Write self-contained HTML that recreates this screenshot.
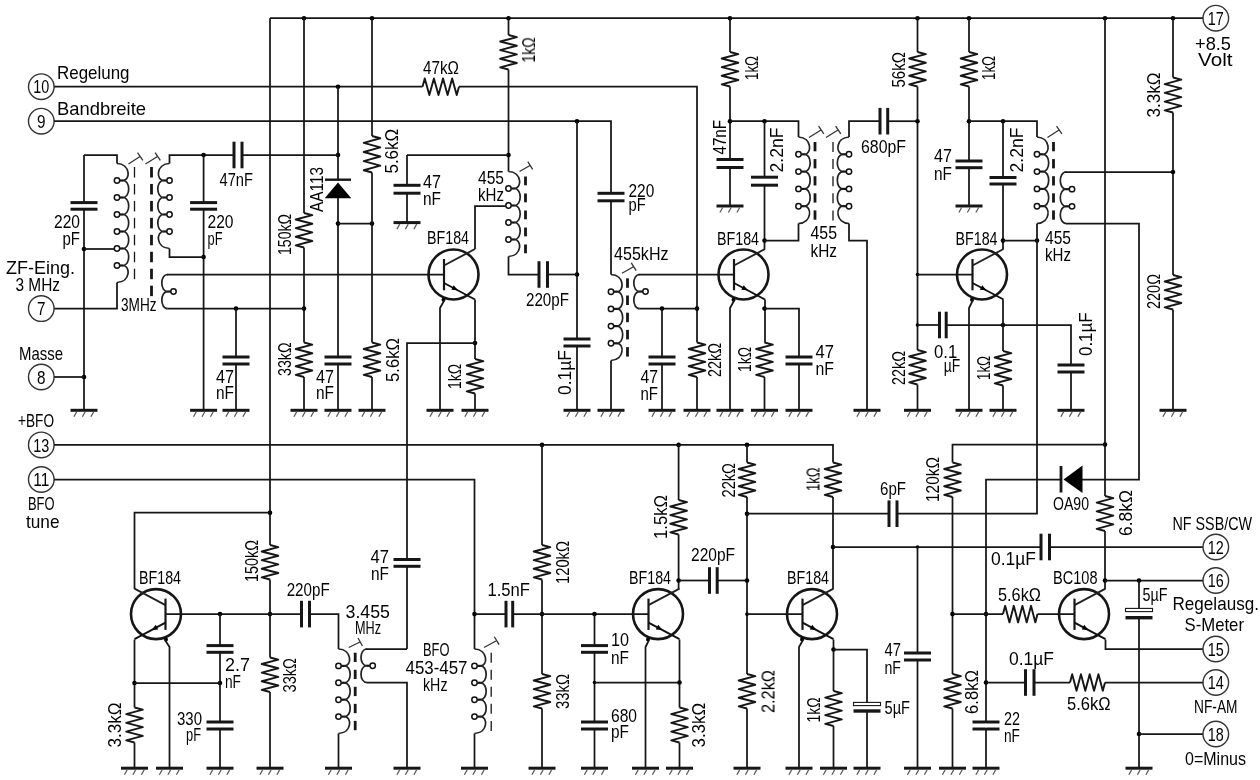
<!DOCTYPE html>
<html><head><meta charset="utf-8"><title>ZF-Verstaerker Schaltplan</title>
<style>
html,body{margin:0;padding:0;background:#fff;}
svg{display:block;}

svg text{font-family:"Liberation Sans",sans-serif;font-size:19px;fill:#000;stroke:none;}
svg g.t{opacity:0.999;}
</style></head><body>
<svg width="1260" height="780" viewBox="0 0 1260 780" stroke="#161616" stroke-width="1.75" fill="none" stroke-linecap="butt" stroke-linejoin="miter">
<rect x="0" y="0" width="1260" height="780" fill="#fff" stroke="none"/>
<path d="M270 18.2 L1203 18.2"/>
<circle cx="304" cy="18.2" r="2.3" fill="#000" stroke="none"/>
<circle cx="372" cy="18.2" r="2.3" fill="#000" stroke="none"/>
<circle cx="508.5" cy="18.2" r="2.3" fill="#000" stroke="none"/>
<circle cx="730" cy="18.2" r="2.3" fill="#000" stroke="none"/>
<circle cx="917.5" cy="18.2" r="2.3" fill="#000" stroke="none"/>
<circle cx="969" cy="18.2" r="2.3" fill="#000" stroke="none"/>
<circle cx="1105" cy="18.2" r="2.3" fill="#000" stroke="none"/>
<circle cx="1173" cy="18.2" r="2.3" fill="#000" stroke="none"/>
<circle cx="1215.8" cy="18.2" r="12.8" fill="#fff" stroke-width="1.4" stroke="#333"/>
<path d="M270 18.2 L270 545"/>
<circle cx="270" cy="512.7" r="2.3" fill="#000" stroke="none"/>
<path d="M270 545 L278.3 547.16 L261.7 551.47 L278.3 555.78 L261.7 560.09 L278.3 564.41 L261.7 568.72 L278.3 573.03 L261.7 577.34 L270 579.5" stroke-width="1.9" stroke-linejoin="round"/>
<path d="M270 579.5 L270 657.5"/>
<circle cx="270" cy="614.1" r="2.3" fill="#000" stroke="none"/>
<path d="M270 657.5 L278.3 659.66 L261.7 663.97 L278.3 668.28 L261.7 672.59 L278.3 676.91 L261.7 681.22 L278.3 685.53 L261.7 689.84 L270 692" stroke-width="1.9" stroke-linejoin="round"/>
<path d="M270 692 L270 768.2"/>
<path d="M256.5 768.2 L283.5 768.2" stroke-width="3"/>
<path d="M262.7 769.7 L259.9 774.7" stroke-width="1.2" stroke="#555"/>
<path d="M271.2 769.7 L268.4 774.7" stroke-width="1.2" stroke="#555"/>
<path d="M279.7 769.7 L276.9 774.7" stroke-width="1.2" stroke="#555"/>
<circle cx="41.3" cy="86.7" r="12.8" fill="#fff" stroke-width="1.4" stroke="#333"/>
<path d="M54.1 86.7 L422.5 86.7"/>
<path d="M422.5 86.7 L424.78 78.4 L429.34 95 L433.91 78.4 L438.47 95 L443.03 78.4 L447.59 95 L452.16 78.4 L456.72 95 L459 86.7" stroke-width="1.9" stroke-linejoin="round"/>
<path d="M459 86.7 L697 86.7 L697 342.5"/>
<path d="M697 342.5 L705.3 344.66 L688.7 348.97 L705.3 353.28 L688.7 357.59 L705.3 361.91 L688.7 366.22 L705.3 370.53 L688.7 374.84 L697 377" stroke-width="1.9" stroke-linejoin="round"/>
<path d="M697 377 L697 410.3"/>
<path d="M683.5 410.3 L710.5 410.3" stroke-width="3"/>
<path d="M689.7 411.8 L686.9 416.8" stroke-width="1.2" stroke="#555"/>
<path d="M698.2 411.8 L695.4 416.8" stroke-width="1.2" stroke="#555"/>
<path d="M706.7 411.8 L703.9 416.8" stroke-width="1.2" stroke="#555"/>
<circle cx="697" cy="308.6" r="2.3" fill="#000" stroke="none"/>
<circle cx="338" cy="86.7" r="2.3" fill="#000" stroke="none"/>
<path d="M338 86.7 L338 179.5"/>
<circle cx="338" cy="155" r="2.3" fill="#000" stroke="none"/>
<path d="M325 179.7 L351 179.7" stroke-width="2.4"/>
<path d="M338 182.5 L351.3 198.3 L324.7 198.3 Z" fill="#000" stroke="none"/>
<path d="M338 198 L338 357"/>
<circle cx="338" cy="223.6" r="2.3" fill="#000" stroke="none"/>
<path d="M324.5 357 L351.5 357" stroke-width="3"/>
<path d="M324.5 364 L351.5 364" stroke-width="3"/>
<path d="M338 364 L338 410.3"/>
<path d="M324.5 410.3 L351.5 410.3" stroke-width="3"/>
<path d="M330.7 411.8 L327.9 416.8" stroke-width="1.2" stroke="#555"/>
<path d="M339.2 411.8 L336.4 416.8" stroke-width="1.2" stroke="#555"/>
<path d="M347.7 411.8 L344.9 416.8" stroke-width="1.2" stroke="#555"/>
<path d="M338 223.6 L372 223.6"/>
<circle cx="372" cy="223.6" r="2.3" fill="#000" stroke="none"/>
<path d="M304 18.2 L304 213"/>
<path d="M304 213 L312.3 215.16 L295.7 219.47 L312.3 223.78 L295.7 228.09 L312.3 232.41 L295.7 236.72 L312.3 241.03 L295.7 245.34 L304 247.5" stroke-width="1.9" stroke-linejoin="round"/>
<path d="M304 247.5 L304 342.5"/>
<circle cx="304" cy="308.6" r="2.3" fill="#000" stroke="none"/>
<path d="M304 342.5 L312.3 344.66 L295.7 348.97 L312.3 353.28 L295.7 357.59 L312.3 361.91 L295.7 366.22 L312.3 370.53 L295.7 374.84 L304 377" stroke-width="1.9" stroke-linejoin="round"/>
<path d="M304 377 L304 410.3"/>
<path d="M290.5 410.3 L317.5 410.3" stroke-width="3"/>
<path d="M296.7 411.8 L293.9 416.8" stroke-width="1.2" stroke="#555"/>
<path d="M305.2 411.8 L302.4 416.8" stroke-width="1.2" stroke="#555"/>
<path d="M313.7 411.8 L310.9 416.8" stroke-width="1.2" stroke="#555"/>
<path d="M372 18.2 L372 136"/>
<path d="M372 136 L380.3 138.28 L363.7 142.84 L380.3 147.41 L363.7 151.97 L380.3 156.53 L363.7 161.09 L380.3 165.66 L363.7 170.22 L372 172.5" stroke-width="1.9" stroke-linejoin="round"/>
<path d="M372 172.5 L372 342.5"/>
<path d="M372 342.5 L380.3 344.66 L363.7 348.97 L380.3 353.28 L363.7 357.59 L380.3 361.91 L363.7 366.22 L380.3 370.53 L363.7 374.84 L372 377" stroke-width="1.9" stroke-linejoin="round"/>
<path d="M372 377 L372 410.3"/>
<path d="M358.5 410.3 L385.5 410.3" stroke-width="3"/>
<path d="M364.7 411.8 L361.9 416.8" stroke-width="1.2" stroke="#555"/>
<path d="M373.2 411.8 L370.4 416.8" stroke-width="1.2" stroke="#555"/>
<path d="M381.7 411.8 L378.9 416.8" stroke-width="1.2" stroke="#555"/>
<circle cx="41.3" cy="121.2" r="12.8" fill="#fff" stroke-width="1.4" stroke="#333"/>
<path d="M54.1 121.2 L611 121.2 L611 193.3"/>
<path d="M597.5 193.3 L624.5 193.3" stroke-width="3"/>
<path d="M597.5 200.8 L624.5 200.8" stroke-width="3"/>
<path d="M611 200.8 L611 274.5"/>
<circle cx="577" cy="121.2" r="2.3" fill="#000" stroke="none"/>
<path d="M577 121.2 L577 339"/>
<circle cx="577" cy="274.5" r="2.3" fill="#000" stroke="none"/>
<path d="M563.5 339 L590.5 339" stroke-width="3"/>
<path d="M563.5 346 L590.5 346" stroke-width="3"/>
<path d="M577 346 L577 410.3"/>
<path d="M563.5 410.3 L590.5 410.3" stroke-width="3"/>
<path d="M569.7 411.8 L566.9 416.8" stroke-width="1.2" stroke="#555"/>
<path d="M578.2 411.8 L575.4 416.8" stroke-width="1.2" stroke="#555"/>
<path d="M586.7 411.8 L583.9 416.8" stroke-width="1.2" stroke="#555"/>
<path d="M84 155 L117 155 L117 163.5"/>
<path d="M117 163.5 C130.65 164 130.65 180.5 122.8 180.5 M122.8 180.5 C130.65 180.5 130.65 197.5 122.8 197.5 M122.8 197.5 C130.65 197.5 130.65 214.5 122.8 214.5 M122.8 214.5 C130.65 214.5 130.65 231.5 122.8 231.5 M122.8 231.5 C130.65 231.5 130.65 248.5 122.8 248.5 M122.8 248.5 C130.65 248.5 130.65 265.5 122.8 265.5 M122.8 265.5 C130.65 265.5 130.65 282 117 282.5" stroke-width="1.7" stroke="#222"/>
<circle cx="117" cy="180.5" r="2.7" fill="#fff" stroke-width="1.5" stroke="#111"/>
<path d="M119.9 180.5 L123.3 180.5" stroke-width="2.2"/>
<circle cx="117" cy="197.5" r="2.7" fill="#fff" stroke-width="1.5" stroke="#111"/>
<path d="M119.9 197.5 L123.3 197.5" stroke-width="2.2"/>
<circle cx="117" cy="214.5" r="2.7" fill="#fff" stroke-width="1.5" stroke="#111"/>
<path d="M119.9 214.5 L123.3 214.5" stroke-width="2.2"/>
<circle cx="117" cy="231.5" r="2.7" fill="#fff" stroke-width="1.5" stroke="#111"/>
<path d="M119.9 231.5 L123.3 231.5" stroke-width="2.2"/>
<circle cx="117" cy="248.5" r="2.7" fill="#fff" stroke-width="1.5" stroke="#111"/>
<path d="M119.9 248.5 L123.3 248.5" stroke-width="2.2"/>
<circle cx="117" cy="265.5" r="2.7" fill="#fff" stroke-width="1.5" stroke="#111"/>
<path d="M119.9 265.5 L123.3 265.5" stroke-width="2.2"/>
<path d="M117 282.5 L117 308.6 L54.1 308.6"/>
<circle cx="41.3" cy="308.6" r="12.8" fill="#fff" stroke-width="1.4" stroke="#333"/>
<path d="M84 155 L84 202.6"/>
<path d="M70.5 202.6 L97.5 202.6" stroke-width="3"/>
<path d="M70.5 209.2 L97.5 209.2" stroke-width="3"/>
<path d="M84 209.2 L84 410.3"/>
<path d="M70.5 410.3 L97.5 410.3" stroke-width="3"/>
<path d="M76.7 411.8 L73.9 416.8" stroke-width="1.2" stroke="#555"/>
<path d="M85.2 411.8 L82.4 416.8" stroke-width="1.2" stroke="#555"/>
<path d="M93.7 411.8 L90.9 416.8" stroke-width="1.2" stroke="#555"/>
<circle cx="84" cy="249" r="2.3" fill="#000" stroke="none"/>
<path d="M84 249 L114 249"/>
<circle cx="84" cy="377" r="2.3" fill="#000" stroke="none"/>
<circle cx="41.3" cy="377" r="12.8" fill="#fff" stroke-width="1.4" stroke="#333"/>
<path d="M54.1 377 L84 377"/>
<path d="M134.5 167 L134.5 177.5" stroke-width="1.3"/>
<path d="M134.5 183.95 L134.5 194.45" stroke-width="1.3"/>
<path d="M134.5 200.9 L134.5 211.4" stroke-width="1.3"/>
<path d="M134.5 217.85 L134.5 228.35" stroke-width="1.3"/>
<path d="M134.5 234.8 L134.5 245.3" stroke-width="1.3"/>
<path d="M134.5 251.75 L134.5 262.25" stroke-width="1.3"/>
<path d="M134.5 268.7 L134.5 279.2" stroke-width="1.3"/>
<path d="M151.5 167 L151.5 177.5" stroke-width="2.8"/>
<path d="M151.5 183.95 L151.5 194.45" stroke-width="2.8"/>
<path d="M151.5 200.9 L151.5 211.4" stroke-width="2.8"/>
<path d="M151.5 217.85 L151.5 228.35" stroke-width="2.8"/>
<path d="M151.5 234.8 L151.5 245.3" stroke-width="2.8"/>
<path d="M151.5 251.75 L151.5 262.25" stroke-width="2.8"/>
<path d="M151.5 268.7 L151.5 279.2" stroke-width="2.8"/>
<path d="M151.5 285.65 L151.5 296.15" stroke-width="2.8"/>
<path d="M128.5 164 L140 156.5" stroke-width="1.3" stroke="#333"/>
<path d="M142.88 160.27 L137.54 152.73" stroke-width="1.3" stroke="#333"/>
<path d="M145.5 164 L157.5 156.5" stroke-width="1.3" stroke="#333"/>
<path d="M160.31 160.32 L155.12 152.68" stroke-width="1.3" stroke="#333"/>
<path d="M169.5 163.5 C155.85 164 155.85 180.5 163.7 180.5 M163.7 180.5 C155.85 180.5 155.85 197.5 163.7 197.5 M163.7 197.5 C155.85 197.5 155.85 214.5 163.7 214.5 M163.7 214.5 C155.85 214.5 155.85 231.5 163.7 231.5 M163.7 231.5 C155.85 231.5 155.85 248 169.5 248.5" stroke-width="1.7" stroke="#222"/>
<circle cx="169.5" cy="180.5" r="2.7" fill="#fff" stroke-width="1.5" stroke="#111"/>
<path d="M166.6 180.5 L163.2 180.5" stroke-width="2.2"/>
<circle cx="169.5" cy="197.5" r="2.7" fill="#fff" stroke-width="1.5" stroke="#111"/>
<path d="M166.6 197.5 L163.2 197.5" stroke-width="2.2"/>
<circle cx="169.5" cy="214.5" r="2.7" fill="#fff" stroke-width="1.5" stroke="#111"/>
<path d="M166.6 214.5 L163.2 214.5" stroke-width="2.2"/>
<circle cx="169.5" cy="231.5" r="2.7" fill="#fff" stroke-width="1.5" stroke="#111"/>
<path d="M166.6 231.5 L163.2 231.5" stroke-width="2.2"/>
<path d="M169.5 163.5 L169.5 155 L234 155"/>
<path d="M234 141.7 L234 168.3" stroke-width="3"/>
<path d="M242 141.7 L242 168.3" stroke-width="3"/>
<path d="M242 155 L338 155"/>
<circle cx="203.6" cy="155" r="2.3" fill="#000" stroke="none"/>
<path d="M203.6 155 L203.6 202.6"/>
<path d="M190.1 202.6 L217.1 202.6" stroke-width="3"/>
<path d="M190.1 209.2 L217.1 209.2" stroke-width="3"/>
<path d="M203.6 209.2 L203.6 410.3"/>
<path d="M190.1 410.3 L217.1 410.3" stroke-width="3"/>
<path d="M196.3 411.8 L193.5 416.8" stroke-width="1.2" stroke="#555"/>
<path d="M204.8 411.8 L202 416.8" stroke-width="1.2" stroke="#555"/>
<path d="M213.3 411.8 L210.5 416.8" stroke-width="1.2" stroke="#555"/>
<circle cx="203.6" cy="257" r="2.3" fill="#000" stroke="none"/>
<path d="M169.5 248.5 L169.5 257 L203.6 257"/>
<path d="M167.7 274.5 C159.85 274.5 159.85 291.55 167.7 291.55 M167.7 291.55 C159.85 291.55 159.85 308.6 167.7 308.6" stroke-width="1.7" stroke="#222"/>
<circle cx="173.5" cy="291.55" r="2.7" fill="#fff" stroke-width="1.5" stroke="#111"/>
<path d="M170.6 291.55 L167.2 291.55" stroke-width="2.2"/>
<path d="M167 274.5 L444 274.5"/>
<path d="M167.5 308.6 L304 308.6"/>
<circle cx="236" cy="308.6" r="2.3" fill="#000" stroke="none"/>
<path d="M236 308.6 L236 357"/>
<path d="M222.5 357 L249.5 357" stroke-width="3"/>
<path d="M222.5 364 L249.5 364" stroke-width="3"/>
<path d="M236 364 L236 410.3"/>
<path d="M222.5 410.3 L249.5 410.3" stroke-width="3"/>
<path d="M228.7 411.8 L225.9 416.8" stroke-width="1.2" stroke="#555"/>
<path d="M237.2 411.8 L234.4 416.8" stroke-width="1.2" stroke="#555"/>
<path d="M245.7 411.8 L242.9 416.8" stroke-width="1.2" stroke="#555"/>
<circle cx="453.5" cy="274.5" r="25" fill="none" stroke-width="2.6"/>
<path d="M444 259 L444 290.3" stroke-width="2.2"/>
<path d="M444 265.5 L475 249" stroke-width="1.9" stroke="#222"/>
<path d="M444 283 L475 299.5" stroke-width="1.9" stroke="#111"/>
<path d="M457.82 290.36 L453.75 285.24 L451.31 289.83 Z" fill="#000" stroke="none"/>
<circle cx="443.5" cy="299.8" r="2" fill="#000" stroke="none"/>
<path d="M475 249 L475 206 L505.5 206"/>
<path d="M475 299.5 L475 359"/>
<circle cx="475" cy="343" r="2.3" fill="#000" stroke="none"/>
<path d="M475 359 L483.3 361.16 L466.7 365.47 L483.3 369.78 L466.7 374.09 L483.3 378.41 L466.7 382.72 L483.3 387.03 L466.7 391.34 L475 393.5" stroke-width="1.9" stroke-linejoin="round"/>
<path d="M475 393.5 L475 410.3"/>
<path d="M461.5 410.3 L488.5 410.3" stroke-width="3"/>
<path d="M467.7 411.8 L464.9 416.8" stroke-width="1.2" stroke="#555"/>
<path d="M476.2 411.8 L473.4 416.8" stroke-width="1.2" stroke="#555"/>
<path d="M484.7 411.8 L481.9 416.8" stroke-width="1.2" stroke="#555"/>
<path d="M444.5 300 L440 308 L440 410.3"/>
<path d="M426.5 410.3 L453.5 410.3" stroke-width="3"/>
<path d="M432.7 411.8 L429.9 416.8" stroke-width="1.2" stroke="#555"/>
<path d="M441.2 411.8 L438.4 416.8" stroke-width="1.2" stroke="#555"/>
<path d="M449.7 411.8 L446.9 416.8" stroke-width="1.2" stroke="#555"/>
<path d="M475 343 L407 343 L407 559.5"/>
<path d="M393.5 559.5 L420.5 559.5" stroke-width="3"/>
<path d="M393.5 566.3 L420.5 566.3" stroke-width="3"/>
<path d="M407 566.3 L407 649"/>
<path d="M508.5 18.2 L508.5 35"/>
<path d="M508.5 35 L516.8 37.16 L500.2 41.47 L516.8 45.78 L500.2 50.09 L516.8 54.41 L500.2 58.72 L516.8 63.03 L500.2 67.34 L508.5 69.5" stroke-width="1.9" stroke-linejoin="round"/>
<path d="M508.5 69.5 L508.5 171.5"/>
<circle cx="508.5" cy="155" r="2.3" fill="#000" stroke="none"/>
<path d="M407 155 L508.5 155"/>
<path d="M407 155 L407 185.3"/>
<path d="M393.5 185.3 L420.5 185.3" stroke-width="3"/>
<path d="M393.5 193.2 L420.5 193.2" stroke-width="3"/>
<path d="M407 193.2 L407 222.6"/>
<path d="M393.5 222.6 L420.5 222.6" stroke-width="3"/>
<path d="M399.7 224.1 L396.9 229.1" stroke-width="1.2" stroke="#555"/>
<path d="M408.2 224.1 L405.4 229.1" stroke-width="1.2" stroke="#555"/>
<path d="M416.7 224.1 L413.9 229.1" stroke-width="1.2" stroke="#555"/>
<path d="M508.5 171.5 C522.15 172 522.15 188.5 514.3 188.5 M514.3 188.5 C522.15 188.5 522.15 205.5 514.3 205.5 M514.3 205.5 C522.15 205.5 522.15 222.5 514.3 222.5 M514.3 222.5 C522.15 222.5 522.15 239.5 514.3 239.5 M514.3 239.5 C522.15 239.5 522.15 256 508.5 256.5" stroke-width="1.7" stroke="#222"/>
<circle cx="508.5" cy="188.5" r="2.7" fill="#fff" stroke-width="1.5" stroke="#111"/>
<path d="M511.4 188.5 L514.8 188.5" stroke-width="2.2"/>
<circle cx="508.5" cy="205.5" r="2.7" fill="#fff" stroke-width="1.5" stroke="#111"/>
<path d="M511.4 205.5 L514.8 205.5" stroke-width="2.2"/>
<circle cx="508.5" cy="222.5" r="2.7" fill="#fff" stroke-width="1.5" stroke="#111"/>
<path d="M511.4 222.5 L514.8 222.5" stroke-width="2.2"/>
<circle cx="508.5" cy="239.5" r="2.7" fill="#fff" stroke-width="1.5" stroke="#111"/>
<path d="M511.4 239.5 L514.8 239.5" stroke-width="2.2"/>
<path d="M508.5 256.5 L508.5 274.5 L539 274.5"/>
<path d="M539 261.2 L539 287.8" stroke-width="3"/>
<path d="M547.5 261.2 L547.5 287.8" stroke-width="3"/>
<path d="M547.5 274.5 L577 274.5"/>
<path d="M525.5 176.5 L525.5 185.3" stroke-width="2.8"/>
<path d="M525.5 193.5 L525.5 202.3" stroke-width="2.8"/>
<path d="M525.5 210.5 L525.5 219.3" stroke-width="2.8"/>
<path d="M525.5 227.5 L525.5 236.3" stroke-width="2.8"/>
<path d="M525.5 244.5 L525.5 253.3" stroke-width="2.8"/>
<path d="M519.5 171.5 L530 165.5" stroke-width="1.3" stroke="#333"/>
<path d="M532.67 169.41 L527.77 161.59" stroke-width="1.3" stroke="#333"/>
<path d="M611 274.5 C624.65 275 624.65 291.7 616.8 291.7 M616.8 291.7 C624.65 291.7 624.65 308.9 616.8 308.9 M616.8 308.9 C624.65 308.9 624.65 326.1 616.8 326.1 M616.8 326.1 C624.65 326.1 624.65 343.3 616.8 343.3 M616.8 343.3 C624.65 343.3 624.65 360 611 360.5" stroke-width="1.7" stroke="#222"/>
<circle cx="611" cy="291.7" r="2.7" fill="#fff" stroke-width="1.5" stroke="#111"/>
<path d="M613.9 291.7 L617.3 291.7" stroke-width="2.2"/>
<circle cx="611" cy="308.9" r="2.7" fill="#fff" stroke-width="1.5" stroke="#111"/>
<path d="M613.9 308.9 L617.3 308.9" stroke-width="2.2"/>
<circle cx="611" cy="326.1" r="2.7" fill="#fff" stroke-width="1.5" stroke="#111"/>
<path d="M613.9 326.1 L617.3 326.1" stroke-width="2.2"/>
<circle cx="611" cy="343.3" r="2.7" fill="#fff" stroke-width="1.5" stroke="#111"/>
<path d="M613.9 343.3 L617.3 343.3" stroke-width="2.2"/>
<path d="M611 360.5 L611 410.3"/>
<path d="M597.5 410.3 L624.5 410.3" stroke-width="3"/>
<path d="M603.7 411.8 L600.9 416.8" stroke-width="1.2" stroke="#555"/>
<path d="M612.2 411.8 L609.4 416.8" stroke-width="1.2" stroke="#555"/>
<path d="M620.7 411.8 L617.9 416.8" stroke-width="1.2" stroke="#555"/>
<path d="M627.5 278.3 L627.5 287.8" stroke-width="2.8"/>
<path d="M627.5 295.5 L627.5 305" stroke-width="2.8"/>
<path d="M627.5 312.7 L627.5 322.2" stroke-width="2.8"/>
<path d="M627.5 329.9 L627.5 339.4" stroke-width="2.8"/>
<path d="M627.5 347.1 L627.5 356.6" stroke-width="2.8"/>
<path d="M622 273.3 L633.5 266.7" stroke-width="1.3" stroke="#333"/>
<path d="M636.17 270.6 L631.26 262.8" stroke-width="1.3" stroke="#333"/>
<path d="M639.7 274.5 C631.85 274.5 631.85 291.55 639.7 291.55 M639.7 291.55 C631.85 291.55 631.85 308.6 639.7 308.6" stroke-width="1.7" stroke="#222"/>
<circle cx="645.5" cy="291.55" r="2.7" fill="#fff" stroke-width="1.5" stroke="#111"/>
<path d="M642.6 291.55 L639.2 291.55" stroke-width="2.2"/>
<path d="M638.5 274.5 L734 274.5"/>
<path d="M639.5 308.6 L697 308.6"/>
<circle cx="662" cy="308.6" r="2.3" fill="#000" stroke="none"/>
<path d="M662 308.6 L662 357"/>
<path d="M648.5 357 L675.5 357" stroke-width="3"/>
<path d="M648.5 364 L675.5 364" stroke-width="3"/>
<path d="M662 364 L662 410.3"/>
<path d="M648.5 410.3 L675.5 410.3" stroke-width="3"/>
<path d="M654.7 411.8 L651.9 416.8" stroke-width="1.2" stroke="#555"/>
<path d="M663.2 411.8 L660.4 416.8" stroke-width="1.2" stroke="#555"/>
<path d="M671.7 411.8 L668.9 416.8" stroke-width="1.2" stroke="#555"/>
<path d="M730 18.2 L730 52"/>
<path d="M730 52 L738.3 54.16 L721.7 58.47 L738.3 62.78 L721.7 67.09 L738.3 71.41 L721.7 75.72 L738.3 80.03 L721.7 84.34 L730 86.5" stroke-width="1.9" stroke-linejoin="round"/>
<path d="M730 86.5 L730 159.5"/>
<circle cx="730" cy="121.2" r="2.3" fill="#000" stroke="none"/>
<path d="M716.5 159.5 L743.5 159.5" stroke-width="3"/>
<path d="M716.5 167.5 L743.5 167.5" stroke-width="3"/>
<path d="M730 167.5 L730 206"/>
<path d="M716.5 206 L743.5 206" stroke-width="3"/>
<path d="M722.7 207.5 L719.9 212.5" stroke-width="1.2" stroke="#555"/>
<path d="M731.2 207.5 L728.4 212.5" stroke-width="1.2" stroke="#555"/>
<path d="M739.7 207.5 L736.9 212.5" stroke-width="1.2" stroke="#555"/>
<path d="M730 121.2 L798.5 121.2 L798.5 137"/>
<circle cx="764.5" cy="121.2" r="2.3" fill="#000" stroke="none"/>
<path d="M764.5 121.2 L764.5 177.2"/>
<path d="M751 177.2 L778 177.2" stroke-width="3"/>
<path d="M751 185.2 L778 185.2" stroke-width="3"/>
<path d="M764.5 185.2 L764.5 249"/>
<circle cx="764.5" cy="240.6" r="2.3" fill="#000" stroke="none"/>
<path d="M798.5 137 C812.15 137.5 812.15 154.3 804.3 154.3 M804.3 154.3 C812.15 154.3 812.15 171.6 804.3 171.6 M804.3 171.6 C812.15 171.6 812.15 188.9 804.3 188.9 M804.3 188.9 C812.15 188.9 812.15 206.2 804.3 206.2 M804.3 206.2 C812.15 206.2 812.15 223 798.5 223.5" stroke-width="1.7" stroke="#222"/>
<circle cx="798.5" cy="154.3" r="2.7" fill="#fff" stroke-width="1.5" stroke="#111"/>
<path d="M801.4 154.3 L804.8 154.3" stroke-width="2.2"/>
<circle cx="798.5" cy="171.6" r="2.7" fill="#fff" stroke-width="1.5" stroke="#111"/>
<path d="M801.4 171.6 L804.8 171.6" stroke-width="2.2"/>
<circle cx="798.5" cy="188.9" r="2.7" fill="#fff" stroke-width="1.5" stroke="#111"/>
<path d="M801.4 188.9 L804.8 188.9" stroke-width="2.2"/>
<circle cx="798.5" cy="206.2" r="2.7" fill="#fff" stroke-width="1.5" stroke="#111"/>
<path d="M801.4 206.2 L804.8 206.2" stroke-width="2.2"/>
<path d="M798.5 223.5 L798.5 240.6 L764.5 240.6"/>
<path d="M849 137 C835.35 137.5 835.35 154.3 843.2 154.3 M843.2 154.3 C835.35 154.3 835.35 171.6 843.2 171.6 M843.2 171.6 C835.35 171.6 835.35 188.9 843.2 188.9 M843.2 188.9 C835.35 188.9 835.35 206.2 843.2 206.2 M843.2 206.2 C835.35 206.2 835.35 223 849 223.5" stroke-width="1.7" stroke="#222"/>
<circle cx="849" cy="154.3" r="2.7" fill="#fff" stroke-width="1.5" stroke="#111"/>
<path d="M846.1 154.3 L842.7 154.3" stroke-width="2.2"/>
<circle cx="849" cy="171.6" r="2.7" fill="#fff" stroke-width="1.5" stroke="#111"/>
<path d="M846.1 171.6 L842.7 171.6" stroke-width="2.2"/>
<circle cx="849" cy="188.9" r="2.7" fill="#fff" stroke-width="1.5" stroke="#111"/>
<path d="M846.1 188.9 L842.7 188.9" stroke-width="2.2"/>
<circle cx="849" cy="206.2" r="2.7" fill="#fff" stroke-width="1.5" stroke="#111"/>
<path d="M846.1 206.2 L842.7 206.2" stroke-width="2.2"/>
<path d="M849 137 L849 121.2 L880 121.2"/>
<path d="M880 107.9 L880 134.5" stroke-width="3"/>
<path d="M887.7 107.9 L887.7 134.5" stroke-width="3"/>
<path d="M887.7 121.2 L917.5 121.2"/>
<path d="M849 223.5 L849 240.6 L867 240.6 L867 410.3"/>
<path d="M853.5 410.3 L880.5 410.3" stroke-width="3"/>
<path d="M859.7 411.8 L856.9 416.8" stroke-width="1.2" stroke="#555"/>
<path d="M868.2 411.8 L865.4 416.8" stroke-width="1.2" stroke="#555"/>
<path d="M876.7 411.8 L873.9 416.8" stroke-width="1.2" stroke="#555"/>
<path d="M815 142 L815 151.3" stroke-width="2.8"/>
<path d="M815 159.1 L815 168.4" stroke-width="2.8"/>
<path d="M815 176.2 L815 185.5" stroke-width="2.8"/>
<path d="M815 193.3 L815 202.6" stroke-width="2.8"/>
<path d="M815 210.4 L815 219.7" stroke-width="2.8"/>
<path d="M833 142 L833 152" stroke-width="1.3"/>
<path d="M833 159.1 L833 169.1" stroke-width="1.3"/>
<path d="M833 176.2 L833 186.2" stroke-width="1.3"/>
<path d="M833 193.3 L833 203.3" stroke-width="1.3"/>
<path d="M833 210.4 L833 220.4" stroke-width="1.3"/>
<path d="M809 137.5 L821 130" stroke-width="1.3" stroke="#333"/>
<path d="M823.81 133.82 L818.62 126.18" stroke-width="1.3" stroke="#333"/>
<path d="M826 137.5 L838 130" stroke-width="1.3" stroke="#333"/>
<path d="M840.81 133.82 L835.62 126.18" stroke-width="1.3" stroke="#333"/>
<circle cx="743.5" cy="274.5" r="25" fill="none" stroke-width="2.6"/>
<path d="M734 259 L734 290.3" stroke-width="2.2"/>
<path d="M734 265.5 L765 249" stroke-width="1.9" stroke="#222"/>
<path d="M734 283 L765 299.5" stroke-width="1.9" stroke="#111"/>
<path d="M747.82 290.36 L743.75 285.24 L741.31 289.83 Z" fill="#000" stroke="none"/>
<circle cx="733.5" cy="299.8" r="2" fill="#000" stroke="none"/>
<path d="M765 299.5 L765 342.5"/>
<circle cx="764.5" cy="308.6" r="2.3" fill="#000" stroke="none"/>
<path d="M764.5 342.5 L772.8 344.66 L756.2 348.97 L772.8 353.28 L756.2 357.59 L772.8 361.91 L756.2 366.22 L772.8 370.53 L756.2 374.84 L764.5 377" stroke-width="1.9" stroke-linejoin="round"/>
<path d="M764.5 377 L764.5 410.3"/>
<path d="M751 410.3 L778 410.3" stroke-width="3"/>
<path d="M757.2 411.8 L754.4 416.8" stroke-width="1.2" stroke="#555"/>
<path d="M765.7 411.8 L762.9 416.8" stroke-width="1.2" stroke="#555"/>
<path d="M774.2 411.8 L771.4 416.8" stroke-width="1.2" stroke="#555"/>
<path d="M764.5 308.6 L799 308.6 L799 357"/>
<path d="M785.5 357 L812.5 357" stroke-width="3"/>
<path d="M785.5 364 L812.5 364" stroke-width="3"/>
<path d="M799 364 L799 410.3"/>
<path d="M785.5 410.3 L812.5 410.3" stroke-width="3"/>
<path d="M791.7 411.8 L788.9 416.8" stroke-width="1.2" stroke="#555"/>
<path d="M800.2 411.8 L797.4 416.8" stroke-width="1.2" stroke="#555"/>
<path d="M808.7 411.8 L805.9 416.8" stroke-width="1.2" stroke="#555"/>
<path d="M734.5 300 L730 308 L730 410.3"/>
<path d="M716.5 410.3 L743.5 410.3" stroke-width="3"/>
<path d="M722.7 411.8 L719.9 416.8" stroke-width="1.2" stroke="#555"/>
<path d="M731.2 411.8 L728.4 416.8" stroke-width="1.2" stroke="#555"/>
<path d="M739.7 411.8 L736.9 416.8" stroke-width="1.2" stroke="#555"/>
<path d="M917.5 18.2 L917.5 52"/>
<path d="M917.5 52 L925.8 54.16 L909.2 58.47 L925.8 62.78 L909.2 67.09 L925.8 71.41 L909.2 75.72 L925.8 80.03 L909.2 84.34 L917.5 86.5" stroke-width="1.9" stroke-linejoin="round"/>
<path d="M917.5 86.5 L917.5 350"/>
<circle cx="917.5" cy="121.2" r="2.3" fill="#000" stroke="none"/>
<circle cx="917.5" cy="274.5" r="1.8" fill="#000" stroke="none"/>
<circle cx="917.5" cy="325" r="1.8" fill="#000" stroke="none"/>
<path d="M917.5 350 L925.8 352.16 L909.2 356.47 L925.8 360.78 L909.2 365.09 L925.8 369.41 L909.2 373.72 L925.8 378.03 L909.2 382.34 L917.5 384.5" stroke-width="1.9" stroke-linejoin="round"/>
<path d="M917.5 384.5 L917.5 410.3"/>
<path d="M904 410.3 L931 410.3" stroke-width="3"/>
<path d="M910.2 411.8 L907.4 416.8" stroke-width="1.2" stroke="#555"/>
<path d="M918.7 411.8 L915.9 416.8" stroke-width="1.2" stroke="#555"/>
<path d="M927.2 411.8 L924.4 416.8" stroke-width="1.2" stroke="#555"/>
<path d="M917.5 274.5 L972.5 274.5"/>
<path d="M917.5 325 L939.5 325"/>
<path d="M939.5 311.7 L939.5 338.3" stroke-width="3"/>
<path d="M946.2 311.7 L946.2 338.3" stroke-width="3"/>
<path d="M946.2 325 L1071 325 L1071 365"/>
<circle cx="1003" cy="325" r="2.3" fill="#000" stroke="none"/>
<path d="M1057.5 365 L1084.5 365" stroke-width="3"/>
<path d="M1057.5 372 L1084.5 372" stroke-width="3"/>
<path d="M1071 372 L1071 410.3"/>
<path d="M1057.5 410.3 L1084.5 410.3" stroke-width="3"/>
<path d="M1063.7 411.8 L1060.9 416.8" stroke-width="1.2" stroke="#555"/>
<path d="M1072.2 411.8 L1069.4 416.8" stroke-width="1.2" stroke="#555"/>
<path d="M1080.7 411.8 L1077.9 416.8" stroke-width="1.2" stroke="#555"/>
<circle cx="982" cy="274.5" r="25" fill="none" stroke-width="2.6"/>
<path d="M972.5 259 L972.5 290.3" stroke-width="2.2"/>
<path d="M972.5 265.5 L1003.5 249" stroke-width="1.9" stroke="#222"/>
<path d="M972.5 283 L1003.5 299.5" stroke-width="1.9" stroke="#111"/>
<path d="M986.32 290.36 L982.25 285.24 L979.81 289.83 Z" fill="#000" stroke="none"/>
<circle cx="972" cy="299.8" r="2" fill="#000" stroke="none"/>
<path d="M969 18.2 L969 52"/>
<path d="M969 52 L977.3 54.16 L960.7 58.47 L977.3 62.78 L960.7 67.09 L977.3 71.41 L960.7 75.72 L977.3 80.03 L960.7 84.34 L969 86.5" stroke-width="1.9" stroke-linejoin="round"/>
<path d="M969 86.5 L969 161"/>
<circle cx="969" cy="121.2" r="2.3" fill="#000" stroke="none"/>
<path d="M955.5 161 L982.5 161" stroke-width="3"/>
<path d="M955.5 167.7 L982.5 167.7" stroke-width="3"/>
<path d="M969 167.7 L969 206"/>
<path d="M955.5 206 L982.5 206" stroke-width="3"/>
<path d="M961.7 207.5 L958.9 212.5" stroke-width="1.2" stroke="#555"/>
<path d="M970.2 207.5 L967.4 212.5" stroke-width="1.2" stroke="#555"/>
<path d="M978.7 207.5 L975.9 212.5" stroke-width="1.2" stroke="#555"/>
<path d="M969 121.2 L1037 121.2 L1037 137"/>
<circle cx="1003" cy="121.2" r="2.3" fill="#000" stroke="none"/>
<path d="M1003 121.2 L1003 177.5"/>
<path d="M989.5 177.5 L1016.5 177.5" stroke-width="3"/>
<path d="M989.5 184 L1016.5 184" stroke-width="3"/>
<path d="M1003 184 L1003 249"/>
<circle cx="1003" cy="240.6" r="2.3" fill="#000" stroke="none"/>
<path d="M1003 240.6 L1037 240.6"/>
<circle cx="1037" cy="240.6" r="2.3" fill="#000" stroke="none"/>
<path d="M1003 299.5 L1003 351"/>
<path d="M1003 351 L1011.3 353.16 L994.7 357.47 L1011.3 361.78 L994.7 366.09 L1011.3 370.41 L994.7 374.72 L1011.3 379.03 L994.7 383.34 L1003 385.5" stroke-width="1.9" stroke-linejoin="round"/>
<path d="M1003 385.5 L1003 410.3"/>
<path d="M989.5 410.3 L1016.5 410.3" stroke-width="3"/>
<path d="M995.7 411.8 L992.9 416.8" stroke-width="1.2" stroke="#555"/>
<path d="M1004.2 411.8 L1001.4 416.8" stroke-width="1.2" stroke="#555"/>
<path d="M1012.7 411.8 L1009.9 416.8" stroke-width="1.2" stroke="#555"/>
<path d="M973 300 L969 308 L969 410.3"/>
<path d="M955.5 410.3 L982.5 410.3" stroke-width="3"/>
<path d="M961.7 411.8 L958.9 416.8" stroke-width="1.2" stroke="#555"/>
<path d="M970.2 411.8 L967.4 416.8" stroke-width="1.2" stroke="#555"/>
<path d="M978.7 411.8 L975.9 416.8" stroke-width="1.2" stroke="#555"/>
<path d="M1037 137 C1050.65 137.5 1050.65 154.3 1042.8 154.3 M1042.8 154.3 C1050.65 154.3 1050.65 171.6 1042.8 171.6 M1042.8 171.6 C1050.65 171.6 1050.65 188.9 1042.8 188.9 M1042.8 188.9 C1050.65 188.9 1050.65 206.2 1042.8 206.2 M1042.8 206.2 C1050.65 206.2 1050.65 223 1037 223.5" stroke-width="1.7" stroke="#222"/>
<circle cx="1037" cy="154.3" r="2.7" fill="#fff" stroke-width="1.5" stroke="#111"/>
<path d="M1039.9 154.3 L1043.3 154.3" stroke-width="2.2"/>
<circle cx="1037" cy="171.6" r="2.7" fill="#fff" stroke-width="1.5" stroke="#111"/>
<path d="M1039.9 171.6 L1043.3 171.6" stroke-width="2.2"/>
<circle cx="1037" cy="188.9" r="2.7" fill="#fff" stroke-width="1.5" stroke="#111"/>
<path d="M1039.9 188.9 L1043.3 188.9" stroke-width="2.2"/>
<circle cx="1037" cy="206.2" r="2.7" fill="#fff" stroke-width="1.5" stroke="#111"/>
<path d="M1039.9 206.2 L1043.3 206.2" stroke-width="2.2"/>
<path d="M1037 223.5 L1037 513.7 L897 513.7"/>
<path d="M1053.5 142 L1053.5 151.3" stroke-width="2.8"/>
<path d="M1053.5 159.1 L1053.5 168.4" stroke-width="2.8"/>
<path d="M1053.5 176.2 L1053.5 185.5" stroke-width="2.8"/>
<path d="M1053.5 193.3 L1053.5 202.6" stroke-width="2.8"/>
<path d="M1053.5 210.4 L1053.5 219.7" stroke-width="2.8"/>
<path d="M1047.5 137.5 L1059 130" stroke-width="1.3" stroke="#333"/>
<path d="M1061.88 133.77 L1056.54 126.23" stroke-width="1.3" stroke="#333"/>
<path d="M1066.2 172 C1058.35 172 1058.35 189.17 1066.2 189.17 M1066.2 189.17 C1058.35 189.17 1058.35 206.33 1066.2 206.33 M1066.2 206.33 C1058.35 206.33 1058.35 223.5 1066.2 223.5" stroke-width="1.7" stroke="#222"/>
<circle cx="1072" cy="189.17" r="2.7" fill="#fff" stroke-width="1.5" stroke="#111"/>
<path d="M1069.1 189.17 L1065.7 189.17" stroke-width="2.2"/>
<circle cx="1072" cy="206.33" r="2.7" fill="#fff" stroke-width="1.5" stroke="#111"/>
<path d="M1069.1 206.33 L1065.7 206.33" stroke-width="2.2"/>
<path d="M1064.5 172 L1173 172"/>
<path d="M1066 223.5 L1139 223.5 L1139 479.5 L1082 479.5"/>
<path d="M1105 18.2 L1105 496"/>
<circle cx="1105" cy="444.5" r="2.3" fill="#000" stroke="none"/>
<path d="M1105 496 L1113.3 498.19 L1096.7 502.56 L1113.3 506.94 L1096.7 511.31 L1113.3 515.69 L1096.7 520.06 L1113.3 524.44 L1096.7 528.81 L1105 531" stroke-width="1.9" stroke-linejoin="round"/>
<path d="M1105 531 L1105 589"/>
<circle cx="1105" cy="580.5" r="2.3" fill="#000" stroke="none"/>
<path d="M1173 18.2 L1173 77.5"/>
<path d="M1173 77.5 L1181.3 79.69 L1164.7 84.06 L1181.3 88.44 L1164.7 92.81 L1181.3 97.19 L1164.7 101.56 L1181.3 105.94 L1164.7 110.31 L1173 112.5" stroke-width="1.9" stroke-linejoin="round"/>
<path d="M1173 112.5 L1173 275"/>
<circle cx="1173" cy="172" r="2.3" fill="#000" stroke="none"/>
<path d="M1173 275 L1181.3 277.16 L1164.7 281.47 L1181.3 285.78 L1164.7 290.09 L1181.3 294.41 L1164.7 298.72 L1181.3 303.03 L1164.7 307.34 L1173 309.5" stroke-width="1.9" stroke-linejoin="round"/>
<path d="M1173 309.5 L1173 410.3"/>
<path d="M1159.5 410.3 L1186.5 410.3" stroke-width="3"/>
<path d="M1165.7 411.8 L1162.9 416.8" stroke-width="1.2" stroke="#555"/>
<path d="M1174.2 411.8 L1171.4 416.8" stroke-width="1.2" stroke="#555"/>
<path d="M1182.7 411.8 L1179.9 416.8" stroke-width="1.2" stroke="#555"/>
<circle cx="41.3" cy="444.9" r="12.8" fill="#fff" stroke-width="1.4" stroke="#333"/>
<path d="M54.1 444.9 L833 444.9 L833 462.5"/>
<circle cx="542" cy="444.9" r="2.3" fill="#000" stroke="none"/>
<circle cx="678.6" cy="444.9" r="2.3" fill="#000" stroke="none"/>
<circle cx="747" cy="444.9" r="2.3" fill="#000" stroke="none"/>
<path d="M833 462.5 L841.3 464.66 L824.7 468.97 L841.3 473.28 L824.7 477.59 L841.3 481.91 L824.7 486.22 L841.3 490.53 L824.7 494.84 L833 497" stroke-width="1.9" stroke-linejoin="round"/>
<path d="M833 497 L833 589"/>
<circle cx="833" cy="547" r="2.3" fill="#000" stroke="none"/>
<path d="M542 444.9 L542 545"/>
<path d="M542 545 L550.3 547.16 L533.7 551.47 L550.3 555.78 L533.7 560.09 L550.3 564.41 L533.7 568.72 L550.3 573.03 L533.7 577.34 L542 579.5" stroke-width="1.9" stroke-linejoin="round"/>
<path d="M542 579.5 L542 674"/>
<circle cx="542" cy="614.1" r="2.3" fill="#000" stroke="none"/>
<path d="M542 674 L550.3 676.16 L533.7 680.47 L550.3 684.78 L533.7 689.09 L550.3 693.41 L533.7 697.72 L550.3 702.03 L533.7 706.34 L542 708.5" stroke-width="1.9" stroke-linejoin="round"/>
<path d="M542 708.5 L542 768.2"/>
<path d="M528.5 768.2 L555.5 768.2" stroke-width="3"/>
<path d="M534.7 769.7 L531.9 774.7" stroke-width="1.2" stroke="#555"/>
<path d="M543.2 769.7 L540.4 774.7" stroke-width="1.2" stroke="#555"/>
<path d="M551.7 769.7 L548.9 774.7" stroke-width="1.2" stroke="#555"/>
<path d="M678.6 444.9 L678.6 500"/>
<path d="M678.6 500 L686.9 502.16 L670.3 506.47 L686.9 510.78 L670.3 515.09 L686.9 519.41 L670.3 523.72 L686.9 528.03 L670.3 532.34 L678.6 534.5" stroke-width="1.9" stroke-linejoin="round"/>
<path d="M678.6 534.5 L678.6 589"/>
<circle cx="678.6" cy="580.5" r="2.3" fill="#000" stroke="none"/>
<path d="M678.6 580.5 L709.5 580.5"/>
<path d="M709.5 567.2 L709.5 593.8" stroke-width="3"/>
<path d="M717.2 567.2 L717.2 593.8" stroke-width="3"/>
<path d="M717.2 580.5 L747 580.5"/>
<path d="M747 444.9 L747 462.5"/>
<path d="M747 462.5 L755.3 464.66 L738.7 468.97 L755.3 473.28 L738.7 477.59 L755.3 481.91 L738.7 486.22 L755.3 490.53 L738.7 494.84 L747 497" stroke-width="1.9" stroke-linejoin="round"/>
<path d="M747 497 L747 674"/>
<circle cx="747" cy="513.7" r="2.3" fill="#000" stroke="none"/>
<circle cx="747" cy="580.5" r="2.3" fill="#000" stroke="none"/>
<circle cx="747" cy="614.1" r="1.9" fill="#000" stroke="none"/>
<path d="M747 674 L755.3 676.16 L738.7 680.47 L755.3 684.78 L738.7 689.09 L755.3 693.41 L738.7 697.72 L755.3 702.03 L738.7 706.34 L747 708.5" stroke-width="1.9" stroke-linejoin="round"/>
<path d="M747 708.5 L747 768.2"/>
<path d="M733.5 768.2 L760.5 768.2" stroke-width="3"/>
<path d="M739.7 769.7 L736.9 774.7" stroke-width="1.2" stroke="#555"/>
<path d="M748.2 769.7 L745.4 774.7" stroke-width="1.2" stroke="#555"/>
<path d="M756.7 769.7 L753.9 774.7" stroke-width="1.2" stroke="#555"/>
<path d="M747 513.7 L889 513.7"/>
<path d="M889 500.4 L889 527" stroke-width="3"/>
<path d="M897 500.4 L897 527" stroke-width="3"/>
<path d="M747 614.1 L802.5 614.1"/>
<path d="M833 547 L1041 547"/>
<circle cx="917.5" cy="547" r="1.8" fill="#000" stroke="none"/>
<path d="M1041 533.7 L1041 560.3" stroke-width="3"/>
<path d="M1049.5 533.7 L1049.5 560.3" stroke-width="3"/>
<path d="M1049.5 547 L1203 547"/>
<circle cx="1215.8" cy="547" r="12.8" fill="#fff" stroke-width="1.4" stroke="#333"/>
<path d="M917.5 547 L917.5 653"/>
<path d="M904 653 L931 653" stroke-width="3"/>
<path d="M904 660 L931 660" stroke-width="3"/>
<path d="M917.5 660 L917.5 768.2"/>
<path d="M904 768.2 L931 768.2" stroke-width="3"/>
<path d="M910.2 769.7 L907.4 774.7" stroke-width="1.2" stroke="#555"/>
<path d="M918.7 769.7 L915.9 774.7" stroke-width="1.2" stroke="#555"/>
<path d="M927.2 769.7 L924.4 774.7" stroke-width="1.2" stroke="#555"/>
<circle cx="41.3" cy="479.5" r="12.8" fill="#fff" stroke-width="1.4" stroke="#333"/>
<path d="M54.1 479.5 L474.5 479.5 L474.5 649"/>
<circle cx="474.5" cy="614.1" r="2.3" fill="#000" stroke="none"/>
<path d="M952.5 462.5 L952.5 444.5 L1105 444.5"/>
<path d="M952.5 462.5 L960.8 464.66 L944.2 468.97 L960.8 473.28 L944.2 477.59 L960.8 481.91 L944.2 486.22 L960.8 490.53 L944.2 494.84 L952.5 497" stroke-width="1.9" stroke-linejoin="round"/>
<path d="M952.5 497 L952.5 674"/>
<circle cx="952.5" cy="614.1" r="2.3" fill="#000" stroke="none"/>
<path d="M952.5 674 L960.8 676.16 L944.2 680.47 L960.8 684.78 L944.2 689.09 L960.8 693.41 L944.2 697.72 L960.8 702.03 L944.2 706.34 L952.5 708.5" stroke-width="1.9" stroke-linejoin="round"/>
<path d="M952.5 708.5 L952.5 768.2"/>
<path d="M939 768.2 L966 768.2" stroke-width="3"/>
<path d="M945.2 769.7 L942.4 774.7" stroke-width="1.2" stroke="#555"/>
<path d="M953.7 769.7 L950.9 774.7" stroke-width="1.2" stroke="#555"/>
<path d="M962.2 769.7 L959.4 774.7" stroke-width="1.2" stroke="#555"/>
<path d="M986 768.2 L986 479.5 L1061 479.5"/>
<path d="M1061 466 L1061 492.5" stroke-width="2.8"/>
<path d="M1063.5 479.5 L1082.5 465.5 L1082.5 493 Z" fill="#000" stroke="none"/>
<circle cx="986" cy="614.1" r="2.3" fill="#000" stroke="none"/>
<circle cx="986" cy="682.5" r="2.3" fill="#000" stroke="none"/>
<path d="M972.5 722 L999.5 722" stroke-width="3"/>
<path d="M972.5 729 L999.5 729" stroke-width="3"/>
<rect x="985" y="723.4" width="2" height="4.2" fill="#fff" stroke="none"/>
<path d="M972.5 768.2 L999.5 768.2" stroke-width="3"/>
<path d="M978.7 769.7 L975.9 774.7" stroke-width="1.2" stroke="#555"/>
<path d="M987.2 769.7 L984.4 774.7" stroke-width="1.2" stroke="#555"/>
<path d="M995.7 769.7 L992.9 774.7" stroke-width="1.2" stroke="#555"/>
<circle cx="156" cy="614.1" r="25" fill="none" stroke-width="2.6"/>
<path d="M165.5 598.6 L165.5 629.9" stroke-width="2.2"/>
<path d="M165.5 605.1 L134.5 588.6" stroke-width="1.9" stroke="#222"/>
<path d="M165.5 622.6 L134.5 639.1" stroke-width="1.9" stroke="#111"/>
<path d="M151.68 629.96 L158.19 629.43 L155.75 624.84 Z" fill="#000" stroke="none"/>
<circle cx="166" cy="639.4" r="2" fill="#000" stroke="none"/>
<path d="M134.5 589 L134.5 512.7 L270 512.7"/>
<path d="M134.5 639.5 L134.5 707.5"/>
<circle cx="134.5" cy="683" r="2.3" fill="#000" stroke="none"/>
<path d="M134.5 707.5 L142.8 709.69 L126.2 714.06 L142.8 718.44 L126.2 722.81 L142.8 727.19 L126.2 731.56 L142.8 735.94 L126.2 740.31 L134.5 742.5" stroke-width="1.9" stroke-linejoin="round"/>
<path d="M134.5 742.5 L134.5 768.2"/>
<path d="M121 768.2 L148 768.2" stroke-width="3"/>
<path d="M127.2 769.7 L124.4 774.7" stroke-width="1.2" stroke="#555"/>
<path d="M135.7 769.7 L132.9 774.7" stroke-width="1.2" stroke="#555"/>
<path d="M144.2 769.7 L141.4 774.7" stroke-width="1.2" stroke="#555"/>
<path d="M165 640 L169.5 647 L169.5 768.2"/>
<path d="M156 768.2 L183 768.2" stroke-width="3"/>
<path d="M162.2 769.7 L159.4 774.7" stroke-width="1.2" stroke="#555"/>
<path d="M170.7 769.7 L167.9 774.7" stroke-width="1.2" stroke="#555"/>
<path d="M179.2 769.7 L176.4 774.7" stroke-width="1.2" stroke="#555"/>
<path d="M165.5 614.1 L301.5 614.1"/>
<circle cx="220" cy="614.1" r="2.3" fill="#000" stroke="none"/>
<path d="M301.5 600.8 L301.5 627.4" stroke-width="3"/>
<path d="M309.5 600.8 L309.5 627.4" stroke-width="3"/>
<path d="M309.5 614.1 L338.5 614.1 L338.5 649"/>
<path d="M220 614.1 L220 646"/>
<path d="M206.5 645.6 L233.5 645.6" stroke-width="3"/>
<path d="M206.5 652.3 L233.5 652.3" stroke-width="3"/>
<path d="M220 652.3 L220 722"/>
<circle cx="220" cy="683" r="2.3" fill="#000" stroke="none"/>
<path d="M206.5 722 L233.5 722" stroke-width="3"/>
<path d="M206.5 729 L233.5 729" stroke-width="3"/>
<path d="M220 729 L220 768.2"/>
<path d="M206.5 768.2 L233.5 768.2" stroke-width="3"/>
<path d="M212.7 769.7 L209.9 774.7" stroke-width="1.2" stroke="#555"/>
<path d="M221.2 769.7 L218.4 774.7" stroke-width="1.2" stroke="#555"/>
<path d="M229.7 769.7 L226.9 774.7" stroke-width="1.2" stroke="#555"/>
<path d="M134.5 683 L220 683"/>
<path d="M338.5 649 C352.15 649.5 352.15 665.9 344.3 665.9 M344.3 665.9 C352.15 665.9 352.15 682.8 344.3 682.8 M344.3 682.8 C352.15 682.8 352.15 699.7 344.3 699.7 M344.3 699.7 C352.15 699.7 352.15 716.6 344.3 716.6 M344.3 716.6 C352.15 716.6 352.15 733 338.5 733.5" stroke-width="1.7" stroke="#222"/>
<circle cx="338.5" cy="665.9" r="2.7" fill="#fff" stroke-width="1.5" stroke="#111"/>
<path d="M341.4 665.9 L344.8 665.9" stroke-width="2.2"/>
<circle cx="338.5" cy="682.8" r="2.7" fill="#fff" stroke-width="1.5" stroke="#111"/>
<path d="M341.4 682.8 L344.8 682.8" stroke-width="2.2"/>
<circle cx="338.5" cy="699.7" r="2.7" fill="#fff" stroke-width="1.5" stroke="#111"/>
<path d="M341.4 699.7 L344.8 699.7" stroke-width="2.2"/>
<circle cx="338.5" cy="716.6" r="2.7" fill="#fff" stroke-width="1.5" stroke="#111"/>
<path d="M341.4 716.6 L344.8 716.6" stroke-width="2.2"/>
<path d="M338.5 733.5 L338.5 768.2"/>
<path d="M325 768.2 L352 768.2" stroke-width="3"/>
<path d="M331.2 769.7 L328.4 774.7" stroke-width="1.2" stroke="#555"/>
<path d="M339.7 769.7 L336.9 774.7" stroke-width="1.2" stroke="#555"/>
<path d="M348.2 769.7 L345.4 774.7" stroke-width="1.2" stroke="#555"/>
<path d="M355.2 652.7 L355.2 662" stroke-width="2.8"/>
<path d="M355.2 669.75 L355.2 679.05" stroke-width="2.8"/>
<path d="M355.2 686.8 L355.2 696.1" stroke-width="2.8"/>
<path d="M355.2 703.85 L355.2 713.15" stroke-width="2.8"/>
<path d="M355.2 720.9 L355.2 730.2" stroke-width="2.8"/>
<path d="M348.7 647.5 L360 642" stroke-width="1.3" stroke="#333"/>
<path d="M362.42 646.05 L358.03 637.95" stroke-width="1.3" stroke="#333"/>
<path d="M366.9 649 C359.05 649 359.05 665.75 366.9 665.75 M366.9 665.75 C359.05 665.75 359.05 682.5 366.9 682.5" stroke-width="1.7" stroke="#222"/>
<circle cx="372.7" cy="665.75" r="2.7" fill="#fff" stroke-width="1.5" stroke="#111"/>
<path d="M369.8 665.75 L366.4 665.75" stroke-width="2.2"/>
<path d="M407 649 L365.5 649"/>
<path d="M366.5 682.5 L407 682.5 L407 768.2"/>
<path d="M393.5 768.2 L420.5 768.2" stroke-width="3"/>
<path d="M399.7 769.7 L396.9 774.7" stroke-width="1.2" stroke="#555"/>
<path d="M408.2 769.7 L405.4 774.7" stroke-width="1.2" stroke="#555"/>
<path d="M416.7 769.7 L413.9 774.7" stroke-width="1.2" stroke="#555"/>
<path d="M474.5 649 C488.15 649.5 488.15 665.9 480.3 665.9 M480.3 665.9 C488.15 665.9 488.15 682.8 480.3 682.8 M480.3 682.8 C488.15 682.8 488.15 699.7 480.3 699.7 M480.3 699.7 C488.15 699.7 488.15 716.6 480.3 716.6 M480.3 716.6 C488.15 716.6 488.15 733 474.5 733.5" stroke-width="1.7" stroke="#222"/>
<circle cx="474.5" cy="665.9" r="2.7" fill="#fff" stroke-width="1.5" stroke="#111"/>
<path d="M477.4 665.9 L480.8 665.9" stroke-width="2.2"/>
<circle cx="474.5" cy="682.8" r="2.7" fill="#fff" stroke-width="1.5" stroke="#111"/>
<path d="M477.4 682.8 L480.8 682.8" stroke-width="2.2"/>
<circle cx="474.5" cy="699.7" r="2.7" fill="#fff" stroke-width="1.5" stroke="#111"/>
<path d="M477.4 699.7 L480.8 699.7" stroke-width="2.2"/>
<circle cx="474.5" cy="716.6" r="2.7" fill="#fff" stroke-width="1.5" stroke="#111"/>
<path d="M477.4 716.6 L480.8 716.6" stroke-width="2.2"/>
<path d="M474.5 733.5 L474.5 768.2"/>
<path d="M461 768.2 L488 768.2" stroke-width="3"/>
<path d="M467.2 769.7 L464.4 774.7" stroke-width="1.2" stroke="#555"/>
<path d="M475.7 769.7 L472.9 774.7" stroke-width="1.2" stroke="#555"/>
<path d="M484.2 769.7 L481.4 774.7" stroke-width="1.2" stroke="#555"/>
<path d="M491.2 652.7 L491.2 662.7" stroke-width="1.3"/>
<path d="M491.2 669.75 L491.2 679.75" stroke-width="1.3"/>
<path d="M491.2 686.8 L491.2 696.8" stroke-width="1.3"/>
<path d="M491.2 703.85 L491.2 713.85" stroke-width="1.3"/>
<path d="M491.2 720.9 L491.2 730.9" stroke-width="1.3"/>
<path d="M484 647.5 L496.5 640.7" stroke-width="1.3" stroke="#333"/>
<path d="M499.09 644.65 L494.35 636.75" stroke-width="1.3" stroke="#333"/>
<path d="M474.5 614.1 L506 614.1"/>
<path d="M506 600.8 L506 627.4" stroke-width="3"/>
<path d="M512.7 600.8 L512.7 627.4" stroke-width="3"/>
<path d="M512.7 614.1 L649 614.1"/>
<circle cx="594.5" cy="614.1" r="2.3" fill="#000" stroke="none"/>
<path d="M594.5 614.1 L594.5 646"/>
<path d="M581 645.6 L608 645.6" stroke-width="3"/>
<path d="M581 652.3 L608 652.3" stroke-width="3"/>
<path d="M594.5 652.3 L594.5 722"/>
<circle cx="594.5" cy="682.5" r="1.8" fill="#000" stroke="none"/>
<path d="M581 722 L608 722" stroke-width="3"/>
<path d="M581 729 L608 729" stroke-width="3"/>
<path d="M594.5 729 L594.5 768.2"/>
<path d="M581 768.2 L608 768.2" stroke-width="3"/>
<path d="M587.2 769.7 L584.4 774.7" stroke-width="1.2" stroke="#555"/>
<path d="M595.7 769.7 L592.9 774.7" stroke-width="1.2" stroke="#555"/>
<path d="M604.2 769.7 L601.4 774.7" stroke-width="1.2" stroke="#555"/>
<path d="M594.5 682.5 L678.6 682.5"/>
<circle cx="658" cy="614.1" r="25" fill="none" stroke-width="2.6"/>
<path d="M648.5 598.6 L648.5 629.9" stroke-width="2.2"/>
<path d="M648.5 605.1 L679.5 588.6" stroke-width="1.9" stroke="#222"/>
<path d="M648.5 622.6 L679.5 639.1" stroke-width="1.9" stroke="#111"/>
<path d="M662.32 629.96 L658.25 624.84 L655.81 629.43 Z" fill="#000" stroke="none"/>
<circle cx="648" cy="639.4" r="2" fill="#000" stroke="none"/>
<path d="M679.5 639.5 L679.5 707.5"/>
<circle cx="679.5" cy="682.5" r="2.3" fill="#000" stroke="none"/>
<path d="M679.5 707.5 L687.8 709.69 L671.2 714.06 L687.8 718.44 L671.2 722.81 L687.8 727.19 L671.2 731.56 L687.8 735.94 L671.2 740.31 L679.5 742.5" stroke-width="1.9" stroke-linejoin="round"/>
<path d="M679.5 742.5 L679.5 768.2"/>
<path d="M666 768.2 L693 768.2" stroke-width="3"/>
<path d="M672.2 769.7 L669.4 774.7" stroke-width="1.2" stroke="#555"/>
<path d="M680.7 769.7 L677.9 774.7" stroke-width="1.2" stroke="#555"/>
<path d="M689.2 769.7 L686.4 774.7" stroke-width="1.2" stroke="#555"/>
<path d="M649 640 L645.5 647 L645.5 768.2"/>
<path d="M632 768.2 L659 768.2" stroke-width="3"/>
<path d="M638.2 769.7 L635.4 774.7" stroke-width="1.2" stroke="#555"/>
<path d="M646.7 769.7 L643.9 774.7" stroke-width="1.2" stroke="#555"/>
<path d="M655.2 769.7 L652.4 774.7" stroke-width="1.2" stroke="#555"/>
<circle cx="812" cy="614.1" r="25" fill="none" stroke-width="2.6"/>
<path d="M802.5 598.6 L802.5 629.9" stroke-width="2.2"/>
<path d="M802.5 605.1 L833.5 588.6" stroke-width="1.9" stroke="#222"/>
<path d="M802.5 622.6 L833.5 639.1" stroke-width="1.9" stroke="#111"/>
<path d="M816.32 629.96 L812.25 624.84 L809.81 629.43 Z" fill="#000" stroke="none"/>
<circle cx="802" cy="639.4" r="2" fill="#000" stroke="none"/>
<path d="M833.5 639.5 L833.5 691"/>
<circle cx="833.5" cy="649.5" r="2.3" fill="#000" stroke="none"/>
<path d="M833.5 691 L841.8 693.19 L825.2 697.56 L841.8 701.94 L825.2 706.31 L841.8 710.69 L825.2 715.06 L841.8 719.44 L825.2 723.81 L833.5 726" stroke-width="1.9" stroke-linejoin="round"/>
<path d="M833.5 726 L833.5 768.2"/>
<path d="M820 768.2 L847 768.2" stroke-width="3"/>
<path d="M826.2 769.7 L823.4 774.7" stroke-width="1.2" stroke="#555"/>
<path d="M834.7 769.7 L831.9 774.7" stroke-width="1.2" stroke="#555"/>
<path d="M843.2 769.7 L840.4 774.7" stroke-width="1.2" stroke="#555"/>
<path d="M833.5 649.5 L867 649.5 L867 702.5"/>
<rect x="853.5" y="702.4" width="27" height="3.2" fill="#fff" stroke-width="1.1"/>
<path d="M853.5 711 L880.5 711" stroke-width="3.4"/>
<path d="M867 711 L867 768.2"/>
<path d="M853.5 768.2 L880.5 768.2" stroke-width="3"/>
<path d="M859.7 769.7 L856.9 774.7" stroke-width="1.2" stroke="#555"/>
<path d="M868.2 769.7 L865.4 774.7" stroke-width="1.2" stroke="#555"/>
<path d="M876.7 769.7 L873.9 774.7" stroke-width="1.2" stroke="#555"/>
<path d="M803 640 L799 647 L799 768.2"/>
<path d="M785.5 768.2 L812.5 768.2" stroke-width="3"/>
<path d="M791.7 769.7 L788.9 774.7" stroke-width="1.2" stroke="#555"/>
<path d="M800.2 769.7 L797.4 774.7" stroke-width="1.2" stroke="#555"/>
<path d="M808.7 769.7 L805.9 774.7" stroke-width="1.2" stroke="#555"/>
<path d="M952.5 614.1 L1003 614.1"/>
<path d="M1003 614.1 L1005.16 605.8 L1009.47 622.4 L1013.78 605.8 L1018.09 622.4 L1022.41 605.8 L1026.72 622.4 L1031.03 605.8 L1035.34 622.4 L1037.5 614.1" stroke-width="1.9" stroke-linejoin="round"/>
<path d="M1037.5 614.1 L1075 614.1"/>
<circle cx="1084" cy="614.1" r="25" fill="none" stroke-width="2.6"/>
<path d="M1074.5 598.6 L1074.5 629.9" stroke-width="2.2"/>
<path d="M1074.5 605.1 L1105.5 588.6" stroke-width="1.9" stroke="#222"/>
<path d="M1074.5 622.6 L1105.5 639.1" stroke-width="1.9" stroke="#111"/>
<path d="M1088.32 629.96 L1084.25 624.84 L1081.81 629.43 Z" fill="#000" stroke="none"/>
<path d="M1105.5 639.5 L1105.5 649 L1203 649"/>
<circle cx="1215.8" cy="649" r="12.8" fill="#fff" stroke-width="1.4" stroke="#333"/>
<path d="M1105 580.5 L1203 580.5"/>
<circle cx="1139" cy="580.5" r="2.3" fill="#000" stroke="none"/>
<circle cx="1215.8" cy="580.5" r="12.8" fill="#fff" stroke-width="1.4" stroke="#333"/>
<path d="M1139 580.5 L1139 608"/>
<rect x="1125.5" y="608.4" width="27" height="3.2" fill="#fff" stroke-width="1.1"/>
<path d="M1125.5 617.7 L1152.5 617.7" stroke-width="3.4"/>
<path d="M1139 617.5 L1139 768.2"/>
<path d="M1125.5 768.2 L1152.5 768.2" stroke-width="3"/>
<path d="M1131.7 769.7 L1128.9 774.7" stroke-width="1.2" stroke="#555"/>
<path d="M1140.2 769.7 L1137.4 774.7" stroke-width="1.2" stroke="#555"/>
<path d="M1148.7 769.7 L1145.9 774.7" stroke-width="1.2" stroke="#555"/>
<circle cx="1139" cy="734" r="2.3" fill="#000" stroke="none"/>
<path d="M1139 734 L1203 734"/>
<circle cx="1215.8" cy="734" r="12.8" fill="#fff" stroke-width="1.4" stroke="#333"/>
<path d="M986 682.5 L1025.5 682.5"/>
<path d="M1025.5 669.2 L1025.5 695.8" stroke-width="3"/>
<path d="M1034 669.2 L1034 695.8" stroke-width="3"/>
<path d="M1034 682.5 L1070 682.5"/>
<path d="M1070 682.5 L1072.19 674.2 L1076.56 690.8 L1080.94 674.2 L1085.31 690.8 L1089.69 674.2 L1094.06 690.8 L1098.44 674.2 L1102.81 690.8 L1105 682.5" stroke-width="1.9" stroke-linejoin="round"/>
<path d="M1105 682.5 L1203 682.5"/>
<circle cx="1215.8" cy="682.5" r="12.8" fill="#fff" stroke-width="1.4" stroke="#333"/>
<g class="t">
<text x="1215.8" y="24.9" text-anchor="middle" textLength="16" lengthAdjust="spacingAndGlyphs">17</text>
<text x="1195" y="49.5" textLength="36" lengthAdjust="spacingAndGlyphs">+8.5</text>
<text x="1198" y="65.5" textLength="34.5" lengthAdjust="spacingAndGlyphs">Volt</text>
<text transform="translate(257.5 582) rotate(-90)" x="0" y="0" textLength="42" lengthAdjust="spacingAndGlyphs">150kΩ</text>
<text transform="translate(296 692.5) rotate(-90)" x="0" y="0" textLength="34.5" lengthAdjust="spacingAndGlyphs">33kΩ</text>
<text x="41.3" y="93.4" text-anchor="middle" textLength="16" lengthAdjust="spacingAndGlyphs">10</text>
<text x="57" y="79" textLength="72.5" lengthAdjust="spacingAndGlyphs">Regelung</text>
<text x="423" y="74" textLength="36" lengthAdjust="spacingAndGlyphs">47kΩ</text>
<text transform="translate(721.3 377) rotate(-90)" x="0" y="0" textLength="34" lengthAdjust="spacingAndGlyphs">22kΩ</text>
<text transform="translate(323 212) rotate(-90)" x="0" y="0" textLength="45" lengthAdjust="spacingAndGlyphs">AA113</text>
<text x="316" y="382.5" textLength="18" lengthAdjust="spacingAndGlyphs">47</text>
<text x="316" y="399" textLength="18" lengthAdjust="spacingAndGlyphs">nF</text>
<text transform="translate(291 255) rotate(-90)" x="0" y="0" textLength="41" lengthAdjust="spacingAndGlyphs">150kΩ</text>
<text transform="translate(291 376) rotate(-90)" x="0" y="0" textLength="33.5" lengthAdjust="spacingAndGlyphs">33kΩ</text>
<text transform="translate(398 173.5) rotate(-90)" x="0" y="0" textLength="44.5" lengthAdjust="spacingAndGlyphs">5.6kΩ</text>
<text transform="translate(399 382) rotate(-90)" x="0" y="0" textLength="44" lengthAdjust="spacingAndGlyphs">5.6kΩ</text>
<text x="41.3" y="127.9" text-anchor="middle" textLength="8.5" lengthAdjust="spacingAndGlyphs">9</text>
<text x="57" y="115" textLength="89" lengthAdjust="spacingAndGlyphs">Bandbreite</text>
<text transform="translate(571 395) rotate(-90)" x="0" y="0" textLength="45" lengthAdjust="spacingAndGlyphs">0.1µF</text>
<text x="628.5" y="196.7" textLength="25.8" lengthAdjust="spacingAndGlyphs">220</text>
<text x="628.5" y="211.2" textLength="17.2" lengthAdjust="spacingAndGlyphs">pF</text>
<text x="41.3" y="315.3" text-anchor="middle" textLength="8.5" lengthAdjust="spacingAndGlyphs">7</text>
<text x="41.3" y="383.7" text-anchor="middle" textLength="8.5" lengthAdjust="spacingAndGlyphs">8</text>
<text x="219.5" y="186" textLength="33.5" lengthAdjust="spacingAndGlyphs">47nF</text>
<text x="54" y="228" textLength="26" lengthAdjust="spacingAndGlyphs">220</text>
<text x="62.5" y="244.5" textLength="17.5" lengthAdjust="spacingAndGlyphs">pF</text>
<text x="207.5" y="228" textLength="26" lengthAdjust="spacingAndGlyphs">220</text>
<text x="207.5" y="244.5" textLength="15" lengthAdjust="spacingAndGlyphs">pF</text>
<text x="6" y="274" textLength="69" lengthAdjust="spacingAndGlyphs">ZF-Eing.</text>
<text x="15.5" y="291" textLength="44.5" lengthAdjust="spacingAndGlyphs">3 MHz</text>
<text x="121" y="311" textLength="35.5" lengthAdjust="spacingAndGlyphs">3MHz</text>
<text x="19" y="360" textLength="44" lengthAdjust="spacingAndGlyphs">Masse</text>
<text x="216" y="382.5" textLength="18" lengthAdjust="spacingAndGlyphs">47</text>
<text x="216" y="399" textLength="18" lengthAdjust="spacingAndGlyphs">nF</text>
<text x="427" y="244" textLength="42" lengthAdjust="spacingAndGlyphs">BF184</text>
<text transform="translate(461 389) rotate(-90)" x="0" y="0" textLength="25" lengthAdjust="spacingAndGlyphs">1kΩ</text>
<text x="370.5" y="562.5" textLength="18.5" lengthAdjust="spacingAndGlyphs">47</text>
<text x="371" y="580" textLength="18" lengthAdjust="spacingAndGlyphs">nF</text>
<text transform="translate(535 62.5) rotate(-90)" x="0" y="0" textLength="25" lengthAdjust="spacingAndGlyphs">1kΩ</text>
<text x="478" y="183.5" textLength="26" lengthAdjust="spacingAndGlyphs">455</text>
<text x="478" y="201" textLength="26" lengthAdjust="spacingAndGlyphs">kHz</text>
<text x="423" y="187.5" textLength="18" lengthAdjust="spacingAndGlyphs">47</text>
<text x="423" y="205" textLength="18" lengthAdjust="spacingAndGlyphs">nF</text>
<text x="526" y="306" textLength="43" lengthAdjust="spacingAndGlyphs">220pF</text>
<text x="614.1" y="260" textLength="54.4" lengthAdjust="spacingAndGlyphs">455kHz</text>
<text x="640.5" y="383" textLength="17.5" lengthAdjust="spacingAndGlyphs">47</text>
<text x="640.5" y="400" textLength="17.5" lengthAdjust="spacingAndGlyphs">nF</text>
<text transform="translate(758 80) rotate(-90)" x="0" y="0" textLength="24" lengthAdjust="spacingAndGlyphs">1kΩ</text>
<text transform="translate(726 154.5) rotate(-90)" x="0" y="0" textLength="34.5" lengthAdjust="spacingAndGlyphs">47nF</text>
<text transform="translate(782.5 172.5) rotate(-90)" x="0" y="0" textLength="45" lengthAdjust="spacingAndGlyphs">2.2nF</text>
<text x="861" y="152.5" textLength="45" lengthAdjust="spacingAndGlyphs">680pF</text>
<text x="717" y="244.5" textLength="42" lengthAdjust="spacingAndGlyphs">BF184</text>
<text x="810.5" y="239" textLength="26.5" lengthAdjust="spacingAndGlyphs">455</text>
<text x="810.5" y="256.5" textLength="26.5" lengthAdjust="spacingAndGlyphs">kHz</text>
<text transform="translate(751 372) rotate(-90)" x="0" y="0" textLength="25" lengthAdjust="spacingAndGlyphs">1kΩ</text>
<text x="815.5" y="357.5" textLength="18.5" lengthAdjust="spacingAndGlyphs">47</text>
<text x="815.5" y="375" textLength="18.5" lengthAdjust="spacingAndGlyphs">nF</text>
<text transform="translate(905 87.5) rotate(-90)" x="0" y="0" textLength="35.5" lengthAdjust="spacingAndGlyphs">56kΩ</text>
<text transform="translate(905 385) rotate(-90)" x="0" y="0" textLength="34" lengthAdjust="spacingAndGlyphs">22kΩ</text>
<text x="934" y="357.5" textLength="23.2" lengthAdjust="spacingAndGlyphs">0.1</text>
<text x="943.7" y="371.7" textLength="16.5" lengthAdjust="spacingAndGlyphs">µF</text>
<text transform="translate(1092 356) rotate(-90)" x="0" y="0" textLength="43.5" lengthAdjust="spacingAndGlyphs">0.1µF</text>
<text transform="translate(995.3 80) rotate(-90)" x="0" y="0" textLength="24" lengthAdjust="spacingAndGlyphs">1kΩ</text>
<text x="934" y="162.2" textLength="18" lengthAdjust="spacingAndGlyphs">47</text>
<text x="934" y="179.5" textLength="18" lengthAdjust="spacingAndGlyphs">nF</text>
<text transform="translate(1022.5 172.5) rotate(-90)" x="0" y="0" textLength="45" lengthAdjust="spacingAndGlyphs">2.2nF</text>
<text x="955.5" y="244.5" textLength="42" lengthAdjust="spacingAndGlyphs">BF184</text>
<text x="1045" y="244" textLength="26" lengthAdjust="spacingAndGlyphs">455</text>
<text x="1045" y="260.5" textLength="26" lengthAdjust="spacingAndGlyphs">kHz</text>
<text transform="translate(990 380) rotate(-90)" x="0" y="0" textLength="24" lengthAdjust="spacingAndGlyphs">1kΩ</text>
<text transform="translate(1132 536) rotate(-90)" x="0" y="0" textLength="46" lengthAdjust="spacingAndGlyphs">6.8kΩ</text>
<text transform="translate(1160 117.5) rotate(-90)" x="0" y="0" textLength="45" lengthAdjust="spacingAndGlyphs">3.3kΩ</text>
<text transform="translate(1160 309) rotate(-90)" x="0" y="0" textLength="35" lengthAdjust="spacingAndGlyphs">220Ω</text>
<text x="41.3" y="451.6" text-anchor="middle" textLength="16" lengthAdjust="spacingAndGlyphs">13</text>
<text x="18" y="426.5" textLength="36" lengthAdjust="spacingAndGlyphs">+BFO</text>
<text transform="translate(819.5 491) rotate(-90)" x="0" y="0" textLength="23.5" lengthAdjust="spacingAndGlyphs">1kΩ</text>
<text transform="translate(569 584) rotate(-90)" x="0" y="0" textLength="43" lengthAdjust="spacingAndGlyphs">120kΩ</text>
<text transform="translate(569 709) rotate(-90)" x="0" y="0" textLength="35" lengthAdjust="spacingAndGlyphs">33kΩ</text>
<text transform="translate(667 539) rotate(-90)" x="0" y="0" textLength="44" lengthAdjust="spacingAndGlyphs">1.5kΩ</text>
<text x="691" y="561" textLength="44" lengthAdjust="spacingAndGlyphs">220pF</text>
<text transform="translate(735 497.5) rotate(-90)" x="0" y="0" textLength="34.5" lengthAdjust="spacingAndGlyphs">22kΩ</text>
<text transform="translate(774.5 713) rotate(-90)" x="0" y="0" textLength="43" lengthAdjust="spacingAndGlyphs">2.2kΩ</text>
<text x="880" y="495" textLength="26" lengthAdjust="spacingAndGlyphs">6pF</text>
<text x="1215.8" y="553.7" text-anchor="middle" textLength="16" lengthAdjust="spacingAndGlyphs">12</text>
<text x="991" y="565" textLength="45" lengthAdjust="spacingAndGlyphs">0.1µF</text>
<text x="1172.5" y="530" textLength="79.5" lengthAdjust="spacingAndGlyphs">NF SSB/CW</text>
<text x="884.5" y="656" textLength="16.5" lengthAdjust="spacingAndGlyphs">47</text>
<text x="884.5" y="674" textLength="16.5" lengthAdjust="spacingAndGlyphs">nF</text>
<text x="41.3" y="486.2" text-anchor="middle" textLength="16" lengthAdjust="spacingAndGlyphs">11</text>
<text x="28" y="510" textLength="26.5" lengthAdjust="spacingAndGlyphs">BFO</text>
<text x="26" y="527.5" textLength="33.5" lengthAdjust="spacingAndGlyphs">tune</text>
<text transform="translate(939 502) rotate(-90)" x="0" y="0" textLength="45" lengthAdjust="spacingAndGlyphs">120kΩ</text>
<text transform="translate(977.5 714) rotate(-90)" x="0" y="0" textLength="44" lengthAdjust="spacingAndGlyphs">6.8kΩ</text>
<text x="1053" y="510" textLength="36" lengthAdjust="spacingAndGlyphs">OA90</text>
<text x="1004" y="725" textLength="16" lengthAdjust="spacingAndGlyphs">22</text>
<text x="1004" y="742" textLength="16" lengthAdjust="spacingAndGlyphs">nF</text>
<text x="139" y="584" textLength="42" lengthAdjust="spacingAndGlyphs">BF184</text>
<text x="225" y="671" textLength="25" lengthAdjust="spacingAndGlyphs">2.7</text>
<text x="225" y="687.5" textLength="16" lengthAdjust="spacingAndGlyphs">nF</text>
<text x="177" y="725" textLength="25" lengthAdjust="spacingAndGlyphs">330</text>
<text x="186" y="741" textLength="15" lengthAdjust="spacingAndGlyphs">pF</text>
<text transform="translate(121 747.5) rotate(-90)" x="0" y="0" textLength="45" lengthAdjust="spacingAndGlyphs">3.3kΩ</text>
<text x="286.7" y="596" textLength="43" lengthAdjust="spacingAndGlyphs">220pF</text>
<text x="345.5" y="617.5" textLength="44.5" lengthAdjust="spacingAndGlyphs">3.455</text>
<text x="355" y="634" textLength="26" lengthAdjust="spacingAndGlyphs">MHz</text>
<text x="423" y="656" textLength="26.5" lengthAdjust="spacingAndGlyphs">BFO</text>
<text x="405.5" y="674" textLength="62" lengthAdjust="spacingAndGlyphs">453-457</text>
<text x="423" y="691" textLength="24.5" lengthAdjust="spacingAndGlyphs">kHz</text>
<text x="487.5" y="596" textLength="42.5" lengthAdjust="spacingAndGlyphs">1.5nF</text>
<text x="611" y="646" textLength="18" lengthAdjust="spacingAndGlyphs">10</text>
<text x="611" y="664" textLength="18" lengthAdjust="spacingAndGlyphs">nF</text>
<text x="611" y="722" textLength="26" lengthAdjust="spacingAndGlyphs">680</text>
<text x="611" y="738" textLength="18" lengthAdjust="spacingAndGlyphs">pF</text>
<text x="629" y="584" textLength="42" lengthAdjust="spacingAndGlyphs">BF184</text>
<text transform="translate(705 747.5) rotate(-90)" x="0" y="0" textLength="44.5" lengthAdjust="spacingAndGlyphs">3.3kΩ</text>
<text x="787" y="584" textLength="42" lengthAdjust="spacingAndGlyphs">BF184</text>
<text transform="translate(820 722.5) rotate(-90)" x="0" y="0" textLength="25" lengthAdjust="spacingAndGlyphs">1kΩ</text>
<text x="884.5" y="714" textLength="25.5" lengthAdjust="spacingAndGlyphs">5µF</text>
<text x="1215.8" y="655.7" text-anchor="middle" textLength="16" lengthAdjust="spacingAndGlyphs">15</text>
<text x="1215.8" y="587.2" text-anchor="middle" textLength="16" lengthAdjust="spacingAndGlyphs">16</text>
<text x="1215.8" y="740.7" text-anchor="middle" textLength="16" lengthAdjust="spacingAndGlyphs">18</text>
<text x="1215.8" y="689.2" text-anchor="middle" textLength="16" lengthAdjust="spacingAndGlyphs">14</text>
<text x="1053" y="584" textLength="44.5" lengthAdjust="spacingAndGlyphs">BC108</text>
<text x="998" y="601" textLength="43" lengthAdjust="spacingAndGlyphs">5.6kΩ</text>
<text x="1067" y="709.5" textLength="43.5" lengthAdjust="spacingAndGlyphs">5.6kΩ</text>
<text x="1009" y="664.5" textLength="45" lengthAdjust="spacingAndGlyphs">0.1µF</text>
<text x="1142.5" y="601" textLength="25" lengthAdjust="spacingAndGlyphs">5µF</text>
<text x="1172.5" y="610" textLength="86.5" lengthAdjust="spacingAndGlyphs">Regelausg.</text>
<text x="1184.5" y="631" textLength="59.5" lengthAdjust="spacingAndGlyphs">S-Meter</text>
<text x="1194" y="712.5" textLength="43.5" lengthAdjust="spacingAndGlyphs">NF-AM</text>
<text x="1185" y="764.5" textLength="61" lengthAdjust="spacingAndGlyphs">0=Minus</text>
</g>
</svg>
</body></html>
